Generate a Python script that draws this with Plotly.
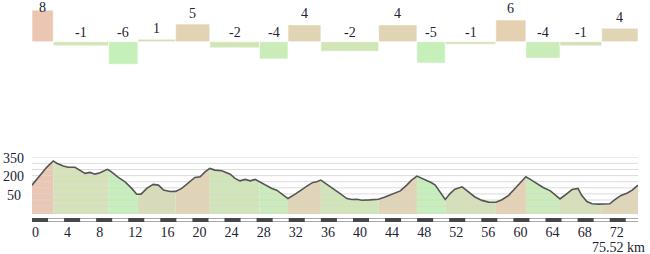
import plotly.graph_objects as go

# ---------------- data ----------------
total_km = 75.52

seg_bounds = [0, 2.65, 9.55, 13.2, 17.9, 22.15, 28.35, 31.9, 36.0, 43.2,
              47.97, 51.5, 57.8, 61.55, 65.8, 71.0, 75.52]
grades = [7.7, -1.0, -5.5, 0.6, 4.3, -1.5, -4.2, 4.1, -2.3, 4.1,
          -5.2, -0.6, 5.3, -4.0, -1.0, 3.3]
grade_labels = ["8", "-1", "-6", "1", "5", "-2", "-4", "4", "-2", "4",
                "-5", "-1", "6", "-4", "-1", "4"]

dist_km = [0, 0.58, 1.2, 1.83, 2.65, 3.08, 3.9, 4.5, 5.36, 5.98,
           6.6, 7.23, 7.85, 8.48, 9.39, 9.55, 9.9, 10.76, 11.6, 12.43,
           13.05, 13.2, 13.6, 14.3, 15.1, 15.75, 16.4, 17.2, 17.9, 18.66,
           19.5, 20.3, 20.95, 21.57, 22.15, 22.8, 23.65, 24.7, 25.3, 25.9,
           26.56, 27.2, 27.8, 28.35, 29.05, 29.9, 30.5, 31.3, 31.9, 32.8,
           33.6, 34.45, 35.0, 35.5, 36.0, 36.75, 37.57, 38.4, 39.24, 39.86,
           40.5, 41.1, 42.1, 43.2, 44.0, 45.0, 45.9, 46.7, 47.3, 47.97,
           48.6, 49.2, 49.8, 50.25, 50.87, 51.5, 52.1, 52.7, 53.6, 54.4,
           55.2, 56.07, 56.9, 57.8, 58.57, 59.4, 60.2, 60.85, 61.55, 62.1,
           62.9, 63.7, 64.6, 65.2, 65.8, 66.4, 67.3, 68.04, 68.5, 69.15,
           69.8, 70.6, 71.0, 71.4, 72.0, 72.6, 73.4, 74.2, 74.8, 75.52]
elev_m = [172, 219, 273, 318, 370, 351, 328, 318, 318, 290,
          268, 276, 262, 273, 301, 296, 281, 235, 199, 145,
          98, 97, 98, 145, 178, 172, 131, 120, 121, 145,
          191, 235, 240, 281, 309, 295, 290, 262, 227, 207,
          219, 207, 219, 199, 172, 145, 131, 89, 62, 98,
          136, 172, 194, 199, 213, 180, 145, 103, 62, 54,
          56, 48, 51, 56, 75, 103, 125, 172, 213, 246,
          227, 213, 191, 172, 117, 54, 103, 139, 158, 117,
          75, 47, 33, 32, 52, 88, 145, 199, 240, 219,
          186, 153, 125, 89, 59, 89, 136, 145, 89, 38,
          19, 16, 16, 16, 19, 52, 88, 108, 131, 172]

elev_ticks = [350, 200, 50]
grid_levels = [-50, 0, 50, 100, 150, 200, 250, 300, 350, 400]
dist_ticks = [0, 4, 8, 12, 16, 20, 24, 28, 32, 36, 40, 44, 48, 52, 56, 60, 64, 68, 72]

# ---------------- style ----------------
seg_colors = ["#EBC6B2", "#D5E3B7", "#C6F0B9", "#D8DCB6", "#E1D3B3", "#D0E6B7",
              "#C9ECB8", "#E1D4B4", "#D0E6B7", "#E1D4B4", "#C6F0B9", "#D5E0B6",
              "#E5D0B2", "#C9ECB8", "#D5E0B6", "#E0D5B5"]
FONT = "'Liberation Serif', 'Times New Roman', 'DejaVu Serif', serif"
TXT = "#222233"
W, H = 650, 254
ML, MR = 32, 12
elev_range = [-67, 400]
grade_range = [-6.9, 10.17]
prof_top_px, prof_bot_px = 157.3, 214.3
bar_bot_px = 70

fig = go.Figure()

# profile segments (filled)
for i in range(len(grades)):
    a, b = seg_bounds[i], seg_bounds[i + 1]
    xs = [d for d in dist_km if a <= d <= b]
    ys = [e for d, e in zip(dist_km, elev_m) if a <= d <= b]
    fig.add_trace(go.Scatter(
        x=[a] + xs + [b], y=[elev_range[0]] + ys + [elev_range[0]],
        fill="toself", fillcolor=seg_colors[i], mode="lines",
        line=dict(width=0), hoverinfo="skip", xaxis="x", yaxis="y"))

# gridlines above fills
gx, gy = [], []
for g in grid_levels:
    gx += [0, total_km, None]
    gy += [g, g, None]
fig.add_trace(go.Scatter(x=gx, y=gy, mode="lines",
                         line=dict(color="rgba(215,215,215,0.9)", width=1),
                         hoverinfo="skip", xaxis="x", yaxis="y"))

# profile line
fig.add_trace(go.Scatter(x=dist_km, y=elev_m, mode="lines",
                         line=dict(color="#555555", width=1.6),
                         hoverinfo="skip", xaxis="x", yaxis="y"))

# grade bars
centers = [(seg_bounds[i] + seg_bounds[i + 1]) / 2 for i in range(len(grades))]
widths = [seg_bounds[i + 1] - seg_bounds[i] for i in range(len(grades))]
fig.add_trace(go.Bar(x=centers, y=grades, width=widths,
                     marker=dict(color=seg_colors,
                                 line=dict(color="rgba(255,255,255,0.6)", width=1)),
                     hoverinfo="skip", xaxis="x2", yaxis="y2"))

annotations = []
for c, v, lab in zip(centers, grades, grade_labels):
    if v > 0:
        yv = min(v + 11 / 4.1, 8.4)
        ys = 0
    else:
        yv = 0
        ys = 9
    annotations.append(dict(x=c, y=yv, xref="x2", yref="y2", text=lab,
                            showarrow=False, yanchor="middle", xanchor="center",
                            yshift=ys, font=dict(family=FONT, size=14, color=TXT)))

for v in elev_ticks:
    annotations.append(dict(x=-(ML - 13.5) / (W - ML - MR), y=v, xref="paper", yref="y",
                            text=str(v), showarrow=False, xanchor="center",
                            yanchor="middle", yshift=5,
                            font=dict(family=FONT, size=14, color=TXT)))

annotations.append(dict(x=total_km, y=(H - 247) / H, xref="x", yref="paper",
                        text=f"{total_km} km", showarrow=False, xanchor="right",
                        yanchor="middle", xshift=9,
                        font=dict(family=FONT, size=14, color=TXT)))

# distance scale bar
shapes = []
sb_top, sb_bot = (H - 218) / H, (H - 222) / H
shapes.append(dict(type="rect", xref="x", yref="paper", x0=0, x1=total_km,
                   y0=sb_bot, y1=sb_top, fillcolor="#a8a8a8", line=dict(width=0)))
k = 0
d = 0
while d < total_km:
    e = min(d + 2, total_km)
    if k % 2 == 0:
        shapes.append(dict(type="rect", xref="x", yref="paper", x0=d, x1=e,
                           y0=sb_bot, y1=sb_top, fillcolor="#474747", line=dict(width=0)))
    else:
        shapes.append(dict(type="rect", xref="x", yref="paper", x0=d, x1=e,
                           y0=(H - 221) / H, y1=(H - 219) / H,
                           fillcolor="#ffffff", line=dict(width=0)))
    d += 2
    k += 1

fig.update_layout(
    width=W, height=H, margin=dict(l=ML, r=MR, t=0, b=0),
    paper_bgcolor="white", plot_bgcolor="white", showlegend=False,
    hovermode=False,
    xaxis=dict(domain=[0, 1], range=[0, total_km], anchor="y",
               showgrid=False, zeroline=False, showline=False,
               tickmode="array", tickvals=dist_ticks, ticks="",
               ticklabelposition="outside right", ticklabelstandoff=8,
               tickfont=dict(family=FONT, size=14, color=TXT)),
    yaxis=dict(domain=[(H - prof_bot_px) / H, (H - prof_top_px) / H],
               range=elev_range, showgrid=False, zeroline=False,
               showticklabels=False, showline=False),
    xaxis2=dict(domain=[0, 1], matches="x", anchor="y2", visible=False),
    yaxis2=dict(domain=[1 - bar_bot_px / H, 1], range=grade_range, visible=False),
    annotations=annotations, shapes=shapes,
)

fig.write_html("out.html")
